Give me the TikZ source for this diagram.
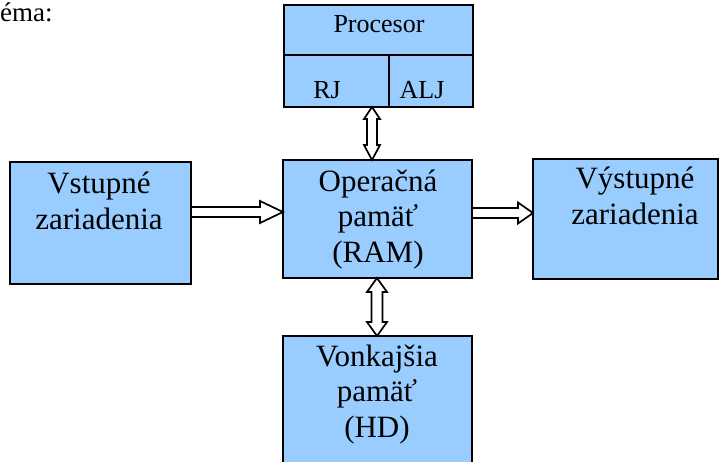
\documentclass[tikz,border=0pt]{standalone}
\usepackage{fontspec}
\setmainfont{Liberation Serif}
\usetikzlibrary{calc}
\definecolor{box-blue}{RGB}{153,204,255}

\begin{document}
\begin{tikzpicture}[x=1pt,y=-1pt,
	box/.style={draw, line width=2.5pt, fill=box-blue, inner sep=0pt, outer sep=0pt, anchor=north west},
	txt/.style={font=\fontsize{31}{35.5}\selectfont, align=center, inner sep=0pt, anchor=base},
	smalltxt/.style={font=\fontsize{26}{30}\selectfont, inner sep=0pt, anchor=base},
	blockarrow/.style={draw, line width=1.7pt, fill=white, line join=miter}]
\useasboundingbox (0,0) rectangle (726,461);
\clip (0,0) rectangle (726,461);

\node[smalltxt, anchor=base west, font=\fontsize{27}{32}\selectfont] (title) at (0,21) {éma:};

% processor
\node[box, minimum width=189pt, minimum height=50pt] (proc) at (284,5) {};
\node[box, minimum width=105pt, minimum height=52pt] (rj) at (proc.south west) {};
\node[box, minimum width=84pt, minimum height=52pt] (alj) at (rj.north east) {};
\node[smalltxt] (proc-txt) at (379,32) {Procesor};
\node[smalltxt] (rj-txt) at (327,98) {RJ};
\node[smalltxt] (alj-txt) at (422,98) {ALJ};

% units (base = last line)
\node[box, minimum width=181pt, minimum height=122pt] (in) at (10,162) {};
\node[box, minimum width=189pt, minimum height=118pt] (ram) at (283,160) {};
\node[box, minimum width=185pt, minimum height=120pt] (out) at (533,159) {};
\node[box, minimum width=189pt, minimum height=140pt] (hd) at (283,336) {};

\node[txt] (in-txt) at (99,229) {Vstupné\\zariadenia};
\node[txt] (ram-txt) at (378,262) {Operačná\\pamäť\\(RAM)};
\node[txt] (out-txt) at (635,224) {Výstupné\\zariadenia};
\node[txt] (hd-txt) at (377,437) {Vonkajšia\\pamäť\\(HD)};

% data flow
\draw[blockarrow] (in.east |- 0,207) -- (260,207) -- (260,201) -- (ram.west |- 0,212)
	-- (260,223) -- (260,217) -- (in.east |- 0,217) -- cycle;
\draw[blockarrow] (ram.east |- 0,208) -- (518,208) -- (518,202.5) -- (out.west |- 0,213)
	-- (518,223.5) -- (518,218) -- (ram.east |- 0,218) -- cycle;
\draw[blockarrow] (372,0 |- rj.south) -- (380,119) -- (377,119) -- (377,145) -- (380,145)
	-- (372,0 |- ram.north) -- (364,145) -- (367,145) -- (367,119) -- (364,119) -- cycle;
\draw[blockarrow] (377,0 |- ram.south) -- (387,292) -- (382.5,292) -- (382.5,322) -- (387,322)
	-- (377,0 |- hd.north) -- (367,322) -- (371.5,322) -- (371.5,292) -- (367,292) -- cycle;

\end{tikzpicture}
\end{document}
